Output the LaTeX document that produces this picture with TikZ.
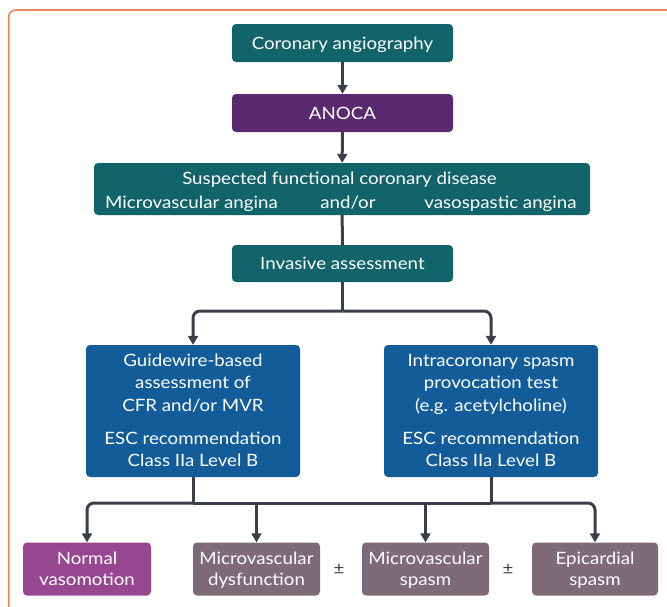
\documentclass[tikz,border=0pt]{standalone}
\usepackage{fontspec}
\setmainfont{Lato}[FakeStretch=1.1]
\usetikzlibrary{arrows.meta}
\definecolor{teal1}{HTML}{11646A}
\definecolor{anoca}{HTML}{5B2970}
\definecolor{blue1}{HTML}{115C99}
\definecolor{normal}{HTML}{96478F}
\definecolor{mauve}{HTML}{7F6A77}
\definecolor{conncol}{HTML}{3A3F4B}
\definecolor{frame}{HTML}{E8895A}
\tikzset{
  box/.style={rounded corners=4pt, text=white, align=center, inner sep=0pt,
    font=\fontsize{17}{21}\selectfont},
  txt/.style={text=white, align=center, inner sep=0pt, anchor=base,
    font=\fontsize{17}{22.5}\selectfont},
  conn/.style={draw=conncol, line width=3pt},
  arr/.style={conn, -{Triangle[width=10pt,length=9pt]}},
}
\begin{document}
\begin{tikzpicture}[x=1pt,y=-1pt]
\useasboundingbox (0,0) rectangle (667,606);
\clip (0,0) rectangle (667,606);
\draw[frame, line width=1.6pt, rounded corners=7pt] (8.7,10) rectangle (700,640);

\node[box, fill=teal1, minimum width=221pt, minimum height=38pt] (ca) at (342.5,43) {};
\node[txt] (cat) at (342.5,49) {Coronary angiography};
\node[box, fill=anoca, minimum width=221pt, minimum height=38pt] (an) at (342.5,113) {};
\node[txt] (ant) at (342.5,119) {ANOCA};
\node[box, fill=teal1, minimum width=496pt, minimum height=52pt] (sf) at (342,189) {};
\node[txt] (sf1) at (339.5,184) {Suspected functional coronary disease};
\node[txt] (sf2) at (191.5,208) {Microvascular angina};
\node[txt] (sf3) at (348,208) {and/or};
\node[txt] (sf4) at (500.5,208) {vasospastic angina};
\node[box, fill=teal1, minimum width=221pt, minimum height=37pt] (ia) at (342.5,263.5) {};
\node[txt] (iat) at (342.5,269.5) {Invasive assessment};

\node[box, fill=blue1, minimum width=214pt, minimum height=132pt] (gw) at (193,411) {};
\node[txt] (gwt) at (193,411) {Guidewire-based\\assessment of\\CFR and/or MVR};
\node[txt] (gwe) at (193,466.5) {ESC recommendation\\Class IIa Level B};

\node[box, fill=blue1, minimum width=214pt, minimum height=132pt] (ic) at (491,411) {};
\node[txt] (ict) at (491,411) {Intracoronary spasm\\provocation test\\(e.g. acetylcholine)};
\node[txt] (ice) at (491,466.5) {ESC recommendation\\Class IIa Level B};

\node[box, fill=normal, minimum width=128pt, minimum height=53pt] (nv) at (87,569) {};
\node[txt, font=\fontsize{17}{21}\selectfont] (nvt) at (87,585) {Normal\\vasomotion};
\node[box, fill=mauve, minimum width=127pt, minimum height=53pt] (md) at (256.5,569) {};
\node[txt, font=\fontsize{17}{21}\selectfont] (mdt) at (256.5,585) {Microvascular\\dysfunction};
\node[box, fill=mauve, minimum width=127pt, minimum height=53pt] (ms) at (425.5,569) {};
\node[txt, font=\fontsize{17}{21}\selectfont] (mst) at (425.5,585) {Microvascular\\spasm};
\node[box, fill=mauve, minimum width=126pt, minimum height=53pt] (ep) at (595,569) {};
\node[txt, font=\fontsize{17}{21}\selectfont] (ept) at (595,585) {Epicardial\\spasm};
\node[txt, text=conncol] (pm1) at (339,574) {±};
\node[txt, text=conncol] (pm2) at (508,574) {±};

\coordinate (j1) at (342.5,311);
\coordinate (jl) at (193,503);
\coordinate (jr) at (491,503);
\coordinate (jmd) at (256.5,503);
\coordinate (jms) at (425.5,503);

\draw[arr] (ca) -- (an);
\draw[arr] (an) -- (sf);
\draw[conn] (sf) -- (ia);
\draw[conn] (ia) -- (j1);
\draw[arr, rounded corners=7pt] (j1) -| (gw);
\draw[arr, rounded corners=7pt] (j1) -| (ic);
\draw[conn] (gw) -- (jl);
\draw[conn] (ic) -- (jr);
\draw[conn] (jl) -- (jr);
\draw[arr, rounded corners=7pt] (jl) -| (nv);
\draw[arr, rounded corners=7pt] (jr) -| (ep);
\draw[arr] (jmd) -- (md);
\draw[arr] (jms) -- (ms);
\end{tikzpicture}
\end{document}
